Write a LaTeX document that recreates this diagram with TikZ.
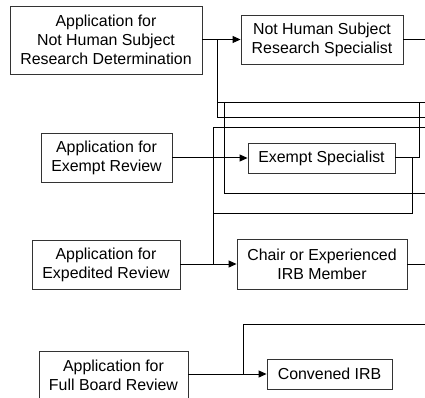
\documentclass[tikz,border=0pt]{standalone}
\usepackage{fontspec}
\setmainfont{Liberation Sans}
\usetikzlibrary{arrows.meta}
\begin{document}
\begin{tikzpicture}[x=1pt,y=-1pt,
  box/.style={draw=black!80, line width=0.9pt, align=center, inner sep=0pt,
              font=\fontsize{15.9}{18.8}\selectfont},
  link/.style={line width=1pt, draw=black},
  arr/.style={link, -{Triangle[length=8pt,width=7pt]}}]
\useasboundingbox (0,0) rectangle (425,398);
\clip (0,0) rectangle (425,398);

% application boxes (left column)
\node[box, minimum width=192pt, minimum height=68pt] (apNHS) at (106,40)
  {Application for\\Not Human Subject\\Research Determination};
\node[box, minimum width=131pt, minimum height=49pt] (exApp) at (106.5,157.5)
  {Application for\\Exempt Review};
\node[box, minimum width=148pt, minimum height=49pt] (edApp) at (106,264.5)
  {Application for\\Expedited Review};
\node[box, minimum width=149pt, minimum height=49pt] (fbApp) at (113.5,375.5)
  {Application for\\Full Board Review};

% reviewer boxes (right column)
\node[box, minimum width=162pt, minimum height=49pt] (nhsSpec) at (322,39.5)
  {Not Human Subject\\Research Specialist};
\node[box, minimum width=147pt, minimum height=30pt] (exSpec) at (321.5,158)
  {Exempt Specialist};
\node[box, minimum width=170pt, minimum height=50pt] (chair) at (322,264)
  {Chair or Experienced\\IRB Member};
\node[box, minimum width=125pt, minimum height=30pt] (conv) at (329.5,374)
  {Convened IRB};

% junctions and line ends
\coordinate (jA) at (217,39.5);
\coordinate (jA103) at (217,103);
\coordinate (c224) at (224,103);
\coordinate (c419) at (419,103);
\coordinate (t412) at (412,158);
\coordinate (c213) at (213,213);
\coordinate (jX) at (213,264);
\coordinate (jF) at (243,374);
\coordinate (r39) at (425,39.5);
\coordinate (r103) at (425,103);
\coordinate (r118) at (425,118);
\coordinate (r128) at (425,128);
\coordinate (r193) at (425,193);
\coordinate (r264) at (425,264);
\coordinate (r324) at (425,324);

% arrows from applications to reviewers
\draw[arr] (apNHS.east |- nhsSpec.west) -- (nhsSpec.west);
\draw[arr] (exApp.east |- exSpec.west) -- (exSpec.west);
\draw[arr] (edApp.east |- chair.west) -- (chair.west);
\draw[arr] (fbApp.east |- conv.west) -- (conv.west);

% outgoing lines and cross routes
\draw[link] (nhsSpec.east) -- (r39);
\draw[link] (jA) |- (r118);
\draw[link] (jA103) -- (r103);
\draw[link] (c224) |- (r193);
\draw[link] (exSpec.east) -| (c419);
\draw[link] (t412) |- (c213);
\draw[link] (r128) -| (jX);
\draw[link] (chair.east) -- (r264);
\draw[link] (jF) |- (r324);
\end{tikzpicture}
\end{document}
